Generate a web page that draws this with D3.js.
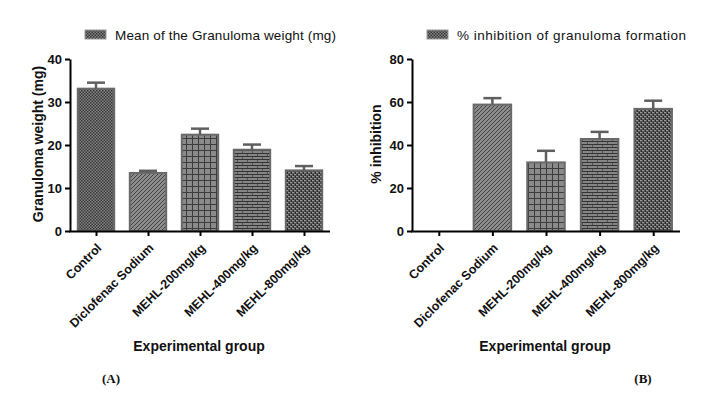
<!DOCTYPE html>
<html>
<head>
<meta charset="utf-8">
<script src="https://cdn.jsdelivr.net/npm/d3@7"></script>
<style>
  body { margin: 0; background: #fff; }
  svg { font-family: Arial, "Liberation Sans", sans-serif; }
  .axis path, .axis line { stroke: #000; stroke-width: 2px; }
  .axis text { font-weight: bold; fill: #111; }
</style>
</head>
<body>
<svg id="chart" width="705" height="396"></svg>
<script>
const categories = ["Control", "Diclofenac Sodium", "MEHL-200mg/kg", "MEHL-400mg/kg", "MEHL-800mg/kg"];
const weightMean = [33.1, 13.5, 22.4, 18.9, 14.1];
const weightErr = [1.4, 0.5, 1.4, 1.2, 1.0];
const inhibitionMean = [0, 58.8, 31.9, 42.8, 56.8];
const inhibitionErr = [0, 3.0, 5.4, 3.3, 3.8];
const weightTicks = [0, 10, 20, 30, 40];
const inhibitionTicks = [0, 20, 40, 60, 80];
const patternIds = ["pChecker", "pDiag", "pGrid", "pBrick", "pWeave"];

const svg = d3.select("#chart");
const defs = svg.append("defs");

// fill patterns, one per group
function makePattern(id, w, h, bg, draw) {
    const p = defs.append("pattern")
        .attr("id", id)
        .attr("patternUnits", "userSpaceOnUse")
        .attr("width", w).attr("height", h);
    p.append("rect").attr("width", w).attr("height", h).attr("fill", bg);
    draw(p);
}
makePattern("pChecker", 3, 3, "#858585", p => {
    p.append("rect").attr("x", 0).attr("y", 0).attr("width", 1.5).attr("height", 1.5).attr("fill", "#353535");
    p.append("rect").attr("x", 1.5).attr("y", 1.5).attr("width", 1.5).attr("height", 1.5).attr("fill", "#353535");
});
makePattern("pDiag", 4, 4, "#8c8c8c", p => {
    p.append("path").attr("d", "M-1,5 L5,-1 M-1,1 L1,-1 M3,5 L5,3").attr("stroke", "#444").attr("stroke-width", 1);
});
makePattern("pGrid", 6, 6, "#8a8a8a", p => {
    p.append("path").attr("d", "M0,0.5 H6 M0.5,0 V6").attr("stroke", "#3c3c3c").attr("stroke-width", 1);
});
makePattern("pBrick", 10, 6, "#7a7a7a", p => {
    p.append("path").attr("d", "M0,0.5 H10 M0,3.5 H10 M2.5,0 V3 M7.5,3 V6").attr("stroke", "#333").attr("stroke-width", 1);
    p.append("path").attr("d", "M0,2 H10 M0,5 H10").attr("stroke", "#a0a0a0").attr("stroke-width", 0.6);
});
makePattern("pWeave", 4, 4, "#555", p => {
    p.append("rect").attr("x", 0).attr("y", 0).attr("width", 2).attr("height", 1).attr("fill", "#9a9a9a");
    p.append("rect").attr("x", 2).attr("y", 2).attr("width", 2).attr("height", 1).attr("fill", "#9a9a9a");
    p.append("rect").attr("x", 3).attr("y", 0).attr("width", 1).attr("height", 2).attr("fill", "#2a2a2a");
    p.append("rect").attr("x", 1).attr("y", 2).attr("width", 1).attr("height", 2).attr("fill", "#2a2a2a");
});

function drawPanel(cfg) {
    const x = d3.scalePoint().domain(categories).range([cfg.x0, cfg.x1]).padding(0.5);
    const y = d3.scaleLinear().domain([0, cfg.max]).range([231, 59]);
    const barW = x.step() * 0.7;

    const g = svg.append("g");

    // legend
    g.append("rect")
        .attr("x", cfg.legX).attr("y", 30).attr("width", 21).attr("height", 9)
        .attr("fill", "url(#pChecker)").attr("stroke", "#999").attr("stroke-width", 1);
    g.append("text")
        .attr("x", cfg.legX + 30).attr("y", 39.5)
        .style("font-size", "13.5px").attr("fill", "#111")
        .attr("textLength", cfg.legLen).attr("lengthAdjust", "spacing")
        .text(cfg.legend);

    // bars
    g.selectAll(".bar").data(cfg.values).join("rect")
        .attr("class", "bar")
        .attr("x", (d, i) => x(categories[i]) - barW / 2)
        .attr("y", d => y(d))
        .attr("width", barW)
        .attr("height", d => y(0) - y(d))
        .attr("fill", (d, i) => `url(#${patternIds[i]})`)
        .attr("stroke", "#6a6a6a")
        .attr("stroke-width", 2)
        .style("display", d => d > 0 ? null : "none");

    // error bars (upper only)
    const eb = g.selectAll(".err").data(cfg.values).join("g")
        .attr("class", "err")
        .style("display", (d, i) => cfg.errs[i] > 0 ? null : "none");
    eb.append("line")
        .attr("x1", (d, i) => x(categories[i])).attr("x2", (d, i) => x(categories[i]))
        .attr("y1", d => y(d)).attr("y2", (d, i) => y(d + cfg.errs[i]))
        .attr("stroke", "#5f5f5f").attr("stroke-width", 2.5);
    eb.append("line")
        .attr("x1", (d, i) => x(categories[i]) - 9).attr("x2", (d, i) => x(categories[i]) + 9)
        .attr("y1", (d, i) => y(d + cfg.errs[i])).attr("y2", (d, i) => y(d + cfg.errs[i]))
        .attr("stroke", "#5f5f5f").attr("stroke-width", 2.5);

    // axes
    const yAxisG = g.append("g").attr("class", "axis")
        .attr("transform", `translate(${cfg.x0},0)`)
        .call(d3.axisLeft(y).tickValues(cfg.ticks).tickSize(5).tickSizeOuter(0).tickPadding(3));
    yAxisG.selectAll("text").style("font-size", "13px");

    const xAxisG = g.append("g").attr("class", "axis")
        .attr("transform", `translate(0,${y(0)})`)
        .call(d3.axisBottom(x).tickSize(5).tickSizeOuter(0));
    xAxisG.select(".domain").attr("d", `M${cfg.x0 - 1},0.5H${cfg.x1}`);
    xAxisG.selectAll("text")
        .style("font-size", "12.5px")
        .attr("text-anchor", "end")
        .attr("dy", "0.35em")
        .attr("transform", "translate(-3,9) rotate(-45)");

    // axis titles
    g.append("text")
        .attr("transform", `translate(${cfg.yTitleX},144) rotate(-90)`)
        .attr("text-anchor", "middle")
        .style("font-size", "14px").style("font-weight", "bold").attr("fill", "#111")
        .text(cfg.yTitle);
    g.append("text")
        .attr("x", (cfg.x0 + cfg.x1) / 2 - 1).attr("y", 351)
        .attr("text-anchor", "middle")
        .style("font-size", "14px").style("font-weight", "bold").attr("fill", "#111")
        .text("Experimental group");

    g.append("text")
        .attr("x", cfg.tagX).attr("y", 383)
        .attr("text-anchor", "middle")
        .style("font-family", "'Times New Roman', 'Liberation Serif', serif")
        .style("font-size", "13px").style("font-weight", "bold").attr("fill", "#111")
        .text(cfg.tag);
}

drawPanel({
    x0: 70, x1: 330, max: 40, ticks: weightTicks,
    values: weightMean, errs: weightErr,
    legend: "Mean of the Granuloma weight (mg)", legX: 85, legLen: 221,
    yTitle: "Granuloma weight (mg)", yTitleX: 43,
    tag: "(A)", tagX: 111
});
drawPanel({
    x0: 412, x1: 680, max: 80, ticks: inhibitionTicks,
    values: inhibitionMean, errs: inhibitionErr,
    legend: "% inhibition of granuloma formation", legX: 427, legLen: 229,
    yTitle: "% inhibition", yTitleX: 381,
    tag: "(B)", tagX: 643
});
</script>
</body>
</html>
